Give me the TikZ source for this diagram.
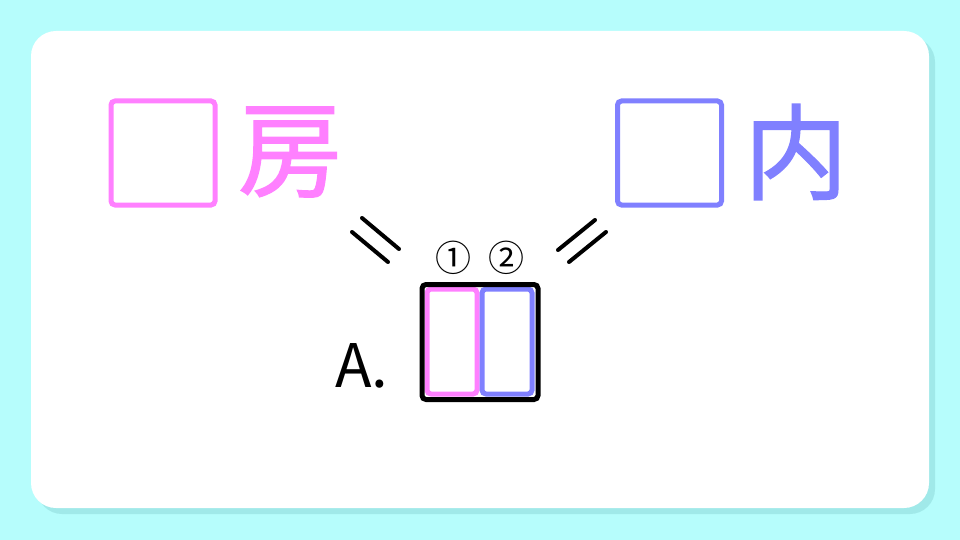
\documentclass[tikz,border=0pt]{standalone}
\usepackage{fontspec}
\newfontfamily\cjk{Noto Sans CJK JP}
\newfontfamily\cjkb[FakeBold=1.2]{Noto Sans CJK JP}
\usetikzlibrary{shadows}
\definecolor{bgcyan}{RGB}{182,253,252}
\definecolor{pinkc}{RGB}{255,128,255}
\definecolor{bluec}{RGB}{128,128,255}
\definecolor{shadowc}{RGB}{140,215,215}
\tikzset{
  blankbox/.style={line width=5pt, rounded corners=4pt},
  kanji/.style={font=\cjkb\fontsize{104}{108}\selectfont, inner sep=0pt},
  eqline/.style={line width=4pt, line cap=round},
  numlabel/.style={font=\cjk\fontsize{36}{38}\selectfont, inner sep=0pt},
}
\begin{document}
\begin{tikzpicture}[x=1pt,y=-1pt]
\useasboundingbox (0,0) rectangle (960,540);
\fill[bgcyan] (0,0) rectangle (960,540);
% card shadow
\fill[shadowc, opacity=0.5, rounded corners=25pt] (37,37) rectangle (935,514);
\fill[white, rounded corners=25pt] (31,31) rectangle (929,508);
% left blank and kanji
\node[blankbox, draw=pinkc, minimum width=104pt, minimum height=104pt, inner sep=0pt] (pbox) at (163,153) {};
\node[kanji, text=pinkc] (fang) at (290,152) {房};
% right blank and kanji
\node[blankbox, draw=bluec, minimum width=104pt, minimum height=104pt, inner sep=0pt] (bbox) at (669.5,153) {};
\node[kanji, text=bluec] (nei) at (796,152) {内};
% equals signs
\draw[eqline] (352,232) -- (388,262);
\draw[eqline] (362,218) -- (399,249);
\draw[eqline] (558,250) -- (595,220);
\draw[eqline] (569,262) -- (606,232);
% circled numbers
\node[numlabel] (n1) at (453,258) {①};
\node[numlabel] (n2) at (506,258) {②};
% answer box
\node[blankbox, draw=pinkc, minimum width=50pt, minimum height=105pt, inner sep=0pt] (ans1) at (452,341.5) {};
\node[blankbox, draw=bluec, minimum width=50pt, minimum height=105pt, inner sep=0pt] (ans2) at (507,341.5) {};
\node[draw=black, line width=5pt, rounded corners=4pt, minimum width=116pt, minimum height=115pt, inner sep=0pt] (outer) at (480,342) {};
% A.
\node[font=\cjk\fontsize{60}{62}\selectfont, inner sep=0pt, anchor=base] (alabel) at (362,387) {A.};
\end{tikzpicture}
\end{document}
